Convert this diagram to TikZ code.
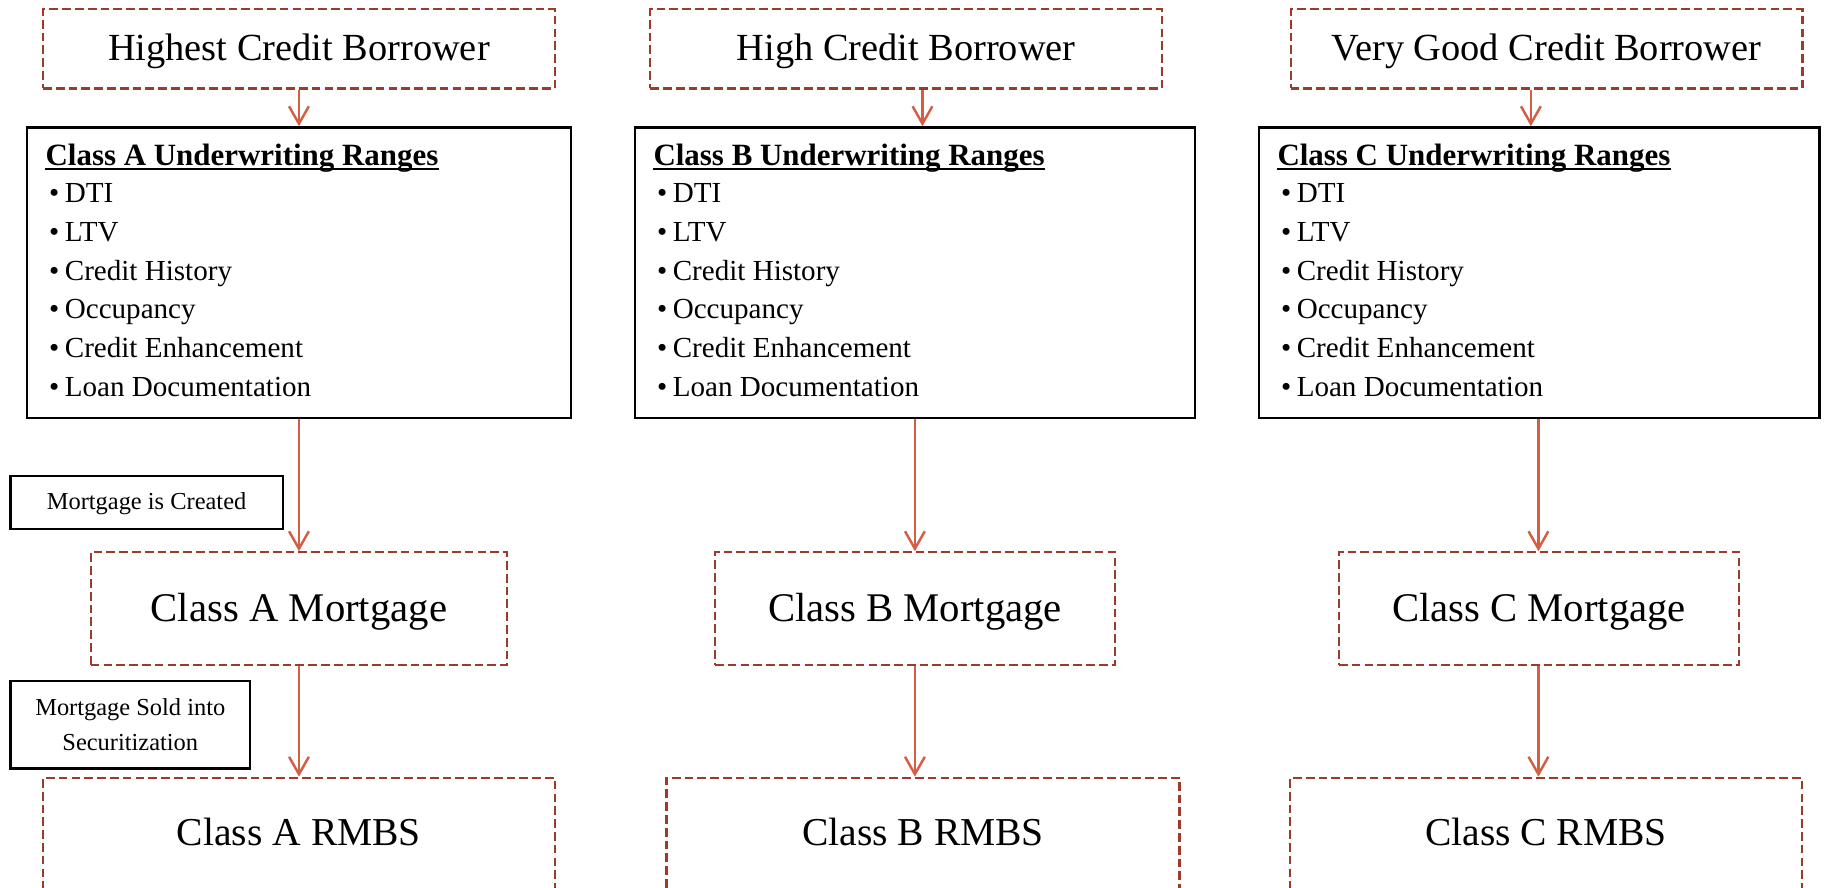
\documentclass[tikz,border=0pt]{standalone}
\usepackage{fontspec}
\setmainfont{Liberation Serif}
\usetikzlibrary{arrows.meta}
\definecolor{boxred}{RGB}{158,58,42}
\definecolor{arrowred}{RGB}{212,94,68}
\tikzset{
  dbox/.style={draw=boxred, line width=1.9pt, dash pattern=on 7.5pt off 3.5pt, inner sep=0pt},
  bbox/.style={draw=black, line width=2pt, inner sep=0pt},
  topbox/.style={dbox, minimum width=440pt, minimum height=68pt, font=\fontsize{33}{40}\selectfont, text height=24pt, text depth=4.8pt},
  mortbox/.style={dbox, minimum height=97pt, font=\fontsize{35}{42}\selectfont, text height=25pt, text depth=2.8pt},
  rmbsbox/.style={dbox, anchor=north, minimum height=120pt, font=\fontsize{34}{40}\selectfont, text height=24pt, text depth=27.2pt},
  uwbox/.style={bbox, minimum height=250pt},
  uwtitle/.style={anchor=base west, inner sep=0pt, font=\bfseries\fontsize{26.6}{30}\selectfont},
  uwitem/.style={anchor=base west, inner sep=0pt, font=\fontsize{25}{30}\selectfont},
  notebox/.style={bbox, font=\fontsize{21}{30}\selectfont, align=center},
  arr/.style={draw=arrowred, line width=2.1pt, -{Straight Barb[length=15pt,width=17pt]}},
}
\begin{document}
\begin{tikzpicture}[x=1pt,y=-1pt]
\useasboundingbox (0,0) rectangle (1568,763);
\fill[white] (0,0) rectangle (1568,763);

% top borrower boxes
\node[topbox] (topA) at (257,42) {Highest Credit Borrower};
\node[topbox] (topB) at (779,42) {High Credit Borrower};
\node[topbox] (topC) at (1329.5,42) {Very Good Credit Borrower};

% underwriting boxes
\node[uwbox, minimum width=468pt] (uwA) at (257,234.5) {};
\node[uwbox, minimum width=481.4pt] (uwB) at (786.3,234.5) {};
\node[uwbox, minimum width=482pt] (uwC) at (1323,234.5) {};

\foreach \c in {A,B,C} {
  \node[uwtitle] (ttl\c) at ([xshift=17pt,yshift=-34pt]uw\c.north west) {Class \c\ Underwriting Ranges};
  \draw[line width=1.2pt] ([yshift=-2.8pt]ttl\c.base west) -- ([yshift=-2.8pt]ttl\c.base east);
  \foreach \t [count=\k] in {DTI, LTV, Credit History, Occupancy, Credit Enhancement, Loan Documentation} {
    \node[uwitem] (b\c\k) at ([xshift=20pt,yshift={-(66+(\k-1)*33.2)*1pt}]uw\c.north west) {\textbullet\hspace{4.8pt}\t};
  }
}

% mortgage boxes
\node[mortbox, minimum width=358pt] (mortA) at (257,523.3) {Class A Mortgage};
\node[mortbox, minimum width=344pt] (mortB) at (786.6,523.3) {Class B Mortgage};
\node[mortbox, minimum width=344pt] (mortC) at (1323,523.3) {Class C Mortgage};

% RMBS boxes
\node[rmbsbox, minimum width=440pt] (rmbsA) at (257,667.7) {Class A RMBS};
\node[rmbsbox, minimum width=441pt] (rmbsB) at (793.5,667.7) {Class B RMBS};
\node[rmbsbox, minimum width=440pt] (rmbsC) at (1329,667.7) {Class C RMBS};

% note boxes
\node[notebox, minimum width=234pt, minimum height=46pt, text height=15pt, text depth=2.2pt] (created) at (126,432) {Mortgage is Created};
\node[notebox, minimum width=206pt, minimum height=75pt] (sold) at (112,623) {Mortgage Sold into\\Securitization};

% arrow columns
\coordinate (xA) at (257,0);
\coordinate (xB1) at (793,0);
\coordinate (xB2) at (786.5,0);
\coordinate (xC1) at (1316,0);
\coordinate (xC2) at (1322.5,0);

\draw[arr] (topA.south -| xA) -- (uwA.north -| xA);
\draw[arr] (uwA.south -| xA) -- (mortA.north -| xA);
\draw[arr] (mortA.south -| xA) -- (rmbsA.north -| xA);

\draw[arr] (topB.south -| xB1) -- (uwB.north -| xB1);
\draw[arr] (uwB.south -| xB2) -- (mortB.north -| xB2);
\draw[arr] (mortB.south -| xB2) -- (rmbsB.north -| xB2);

\draw[arr] (topC.south -| xC1) -- (uwC.north -| xC1);
\draw[arr] (uwC.south -| xC2) -- (mortC.north -| xC2);
\draw[arr] (mortC.south -| xC2) -- (rmbsC.north -| xC2);
\end{tikzpicture}
\end{document}
